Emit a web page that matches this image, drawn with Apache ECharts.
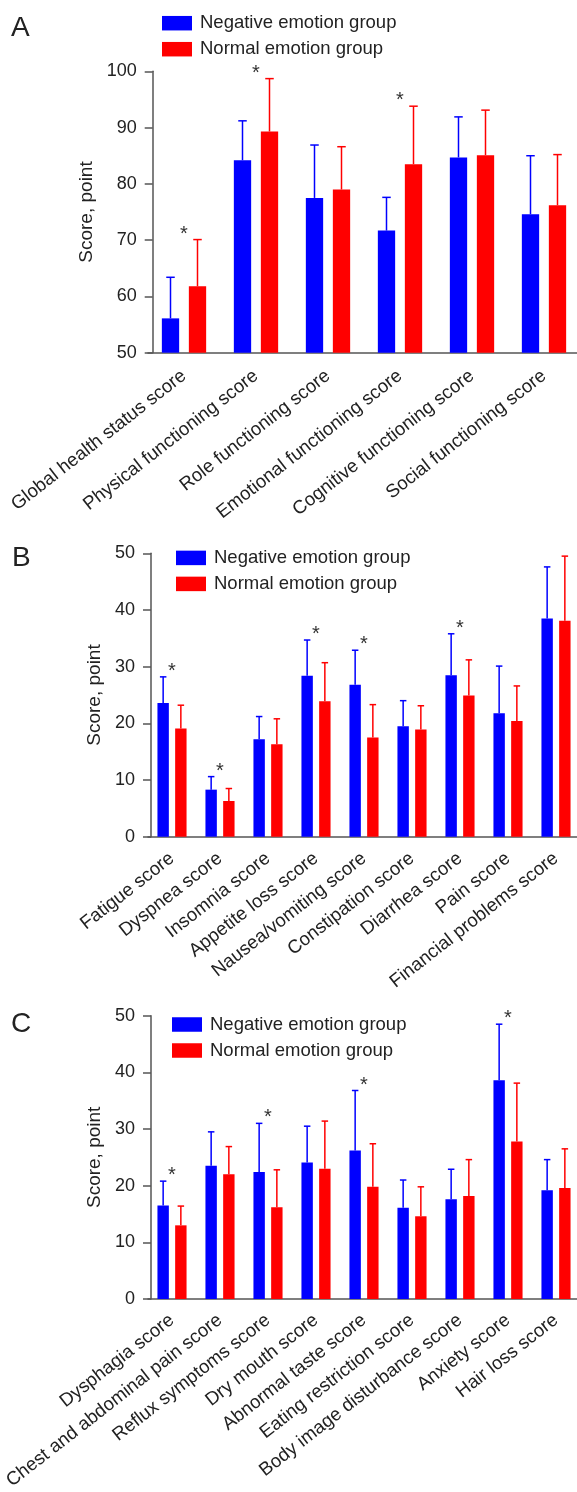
<!DOCTYPE html>
<html>
<head>
<meta charset="utf-8">
<script src="https://cdn.jsdelivr.net/npm/echarts@6/dist/echarts.min.js"></script>
<style>
html,body{margin:0;padding:0;background:#fff;}
#chart{width:577px;height:1492px;}
</style>
</head>
<body>
<div id="chart"></div>
<script>
// ---------- DATA ----------
const seriesNames = ['Negative emotion group', 'Normal emotion group'];

const catsA = ['Global health status score', 'Physical functioning score', 'Role functioning score',
  'Emotional functioning score', 'Cognitive functioning score', 'Social functioning score'];
const negA = [56.1, 84.2, 77.5, 71.7, 84.7, 74.6];
const negSdA = [7.3, 7.0, 9.4, 5.9, 7.2, 10.4];
const normA = [61.8, 89.3, 79.0, 83.5, 85.1, 76.2];
const normSdA = [8.3, 9.4, 7.6, 10.3, 8.0, 9.0];
const sigA = [1, 1, 0, 1, 0, 0];
const ticksA = [50, 60, 70, 80, 90, 100];

const catsB = ['Fatigue score', 'Dyspnea score', 'Insomnia score', 'Appetite loss score',
  'Nausea/vomiting score', 'Constipation score', 'Diarrhea score', 'Pain score', 'Financial problems score'];
const negB = [23.6, 8.3, 17.2, 28.4, 26.8, 19.5, 28.5, 21.8, 38.5];
const negSdB = [4.6, 2.3, 4.0, 6.3, 6.1, 4.5, 7.3, 8.3, 9.1];
const normB = [19.1, 6.3, 16.3, 23.9, 17.5, 18.9, 24.9, 20.4, 38.1];
const normSdB = [4.1, 2.2, 4.5, 6.8, 5.8, 4.2, 6.3, 6.2, 11.4];
const sigB = [1, 1, 0, 1, 1, 0, 1, 0, 0];
const ticksB = [0, 10, 20, 30, 40, 50];

const catsC = ['Dysphagia score', 'Chest and abdominal pain score', 'Reflux symptoms score', 'Dry mouth score',
  'Abnormal taste score', 'Eating restriction score', 'Body image disturbance score', 'Anxiety score', 'Hair loss score'];
const negC = [16.5, 23.5, 22.4, 24.1, 26.2, 16.1, 17.6, 38.6, 19.2];
const negSdC = [4.3, 6.0, 8.6, 6.4, 10.6, 4.9, 5.3, 9.9, 5.4];
const normC = [13.0, 22.0, 16.2, 23.0, 19.8, 14.6, 18.2, 27.8, 19.6];
const normSdC = [3.4, 4.9, 6.6, 8.4, 7.6, 5.2, 6.4, 10.3, 6.9];
const sigC = [1, 0, 1, 0, 1, 0, 0, 1, 0];
const ticksC = [0, 10, 20, 30, 40, 50];

// ---------- LAYOUT / STYLE ----------
const FONT = '"Liberation Sans", Arial, Helvetica, sans-serif';
const BLUE = '#0000ff', RED = '#ff0000', TXT = '#222222', AXIS = '#555555';

const panels = [
  { letter: 'A', cats: catsA, neg: negA, negSd: negSdA, norm: normA, normSd: normSdA, sig: sigA, ticks: ticksA,
    top: 71.3, height: 281.4, axisOffset: -4.7, barW: 17.3, gapPx: 9.7, cap: 8.5, nameGap: 54, labelMargin: 21,
    legendLeft: 162, legendTop: 13.7, letterLeft: 11, letterTop: 14.3 },
  { letter: 'B', cats: catsB, neg: negB, negSd: negSdB, norm: normB, normSd: normSdB, sig: sigB, ticks: ticksB,
    top: 553.3, height: 283.4, axisOffset: -3, barW: 11.4, gapPx: 6.3, cap: 6.5, nameGap: 43, labelMargin: 19.5,
    legendLeft: 176, legendTop: 548.4, letterLeft: 12, letterTop: 544.5 },
  { letter: 'C', cats: catsC, neg: negC, negSd: negSdC, norm: normC, normSd: normSdC, sig: sigC, ticks: ticksC,
    top: 1015.7, height: 283.3, axisOffset: -3, barW: 11.4, gapPx: 6.3, cap: 6.5, nameGap: 43, labelMargin: 19,
    legendLeft: 172, legendTop: 1015, letterLeft: 11, letterTop: 1010.5 }
];

const option = {
  animation: false,
  backgroundColor: '#ffffff',
  textStyle: { fontFamily: FONT },
  title: [], legend: [], grid: [], xAxis: [], yAxis: [], series: []
};

panels.forEach((p, k) => {
  option.title.push({
    text: p.letter, left: p.letterLeft, top: p.letterTop, padding: 0,
    textStyle: { fontFamily: FONT, fontSize: 28, fontWeight: 'normal', color: TXT }
  });
  option.legend.push({
    data: seriesNames, orient: 'vertical', left: p.legendLeft, top: p.legendTop, padding: 0,
    itemWidth: 30, itemHeight: 14.5, itemGap: 7, icon: 'rect', selectedMode: false,
    textStyle: { fontFamily: FONT, fontSize: 18.5, color: TXT, lineHeight: 19, padding: [0, 0, 0, 3] }
  });
  option.grid.push({ left: 148, right: -3, top: p.top, height: p.height, containLabel: false, outerBoundsMode: 'none' });
  option.xAxis.push({
    type: 'category', gridIndex: k, data: p.cats, boundaryGap: true,
    axisLine: { lineStyle: { color: AXIS, width: 1.5 } },
    axisTick: { alignWithLabel: true, length: 8, lineStyle: { color: AXIS, width: 1.5 } },
    axisLabel: { interval: 0, rotate: 38, fontFamily: FONT, fontSize: 18.7, color: TXT, margin: p.labelMargin, hideOverlap: false }
  });
  const mn = p.ticks[0], mx = p.ticks[p.ticks.length - 1];
  option.yAxis.push({
    type: 'value', gridIndex: k, min: mn, max: mx, interval: p.ticks[1] - p.ticks[0],
    offset: p.axisOffset,
    name: 'Score, point', nameLocation: 'middle', nameGap: p.nameGap, nameRotate: 90,
    nameTextStyle: { fontFamily: FONT, fontSize: 19, color: TXT },
    splitLine: { show: false },
    axisLine: { show: true, lineStyle: { color: AXIS, width: 1.5 } },
    axisTick: { show: true, length: 8, lineStyle: { color: AXIS, width: 1.5 } },
    axisLabel: { fontFamily: FONT, fontSize: 18, color: TXT, margin: 16 }
  });
  const barGap = (p.gapPx / p.barW * 100).toFixed(1) + '%';
  option.series.push({
    name: seriesNames[0], type: 'bar', xAxisIndex: k, yAxisIndex: k, data: p.neg,
    barWidth: p.barW, barGap: barGap, itemStyle: { color: BLUE }, z: 2
  });
  option.series.push({
    name: seriesNames[1], type: 'bar', xAxisIndex: k, yAxisIndex: k, data: p.norm,
    barWidth: p.barW, barGap: barGap, itemStyle: { color: RED }, z: 2
  });
  const off = (p.barW + p.gapPx) / 2;
  [[p.neg, p.negSd, -off, BLUE], [p.norm, p.normSd, off, RED]].forEach(([m, sd, dx, col]) => {
    option.series.push({
      type: 'custom', xAxisIndex: k, yAxisIndex: k, z: 3, clip: false,
      data: m.map((v, i) => [i, v, +(v + sd[i]).toFixed(2)]),
      encode: { x: 0, y: [1, 2] },
      renderItem: (params, api) => {
        const i = api.value(0);
        const b = api.coord([i, api.value(1)]);
        const t = api.coord([i, api.value(2)]);
        const x = b[0] + dx;
        const st = { stroke: col, lineWidth: 1.5 };
        return { type: 'group', children: [
          { type: 'line', shape: { x1: x, y1: b[1], x2: x, y2: t[1] }, style: st },
          { type: 'line', shape: { x1: x - p.cap / 2, y1: t[1], x2: x + p.cap / 2, y2: t[1] }, style: st }
        ] };
      }
    });
  });
  // significance stars
  const starData = [];
  p.sig.forEach((s, i) => {
    if (s) starData.push([i, Math.max(p.neg[i] + p.negSd[i], p.norm[i] + p.normSd[i])]);
  });
  option.series.push({
    type: 'custom', xAxisIndex: k, yAxisIndex: k, z: 4, clip: false,
    data: starData, encode: { x: 0, y: 1 },
    renderItem: (params, api) => {
      const c = api.coord([api.value(0), api.value(1)]);
      return { type: 'text', x: c[0], y: c[1] - 5.5,
        style: { text: '*', font: '20px ' + FONT, fill: '#333', align: 'center', verticalAlign: 'middle' } };
    }
  });
});

const chart = echarts.init(document.getElementById('chart'), null, { renderer: 'canvas', width: 577, height: 1492 });
chart.setOption(option);
</script>
</body>
</html>
